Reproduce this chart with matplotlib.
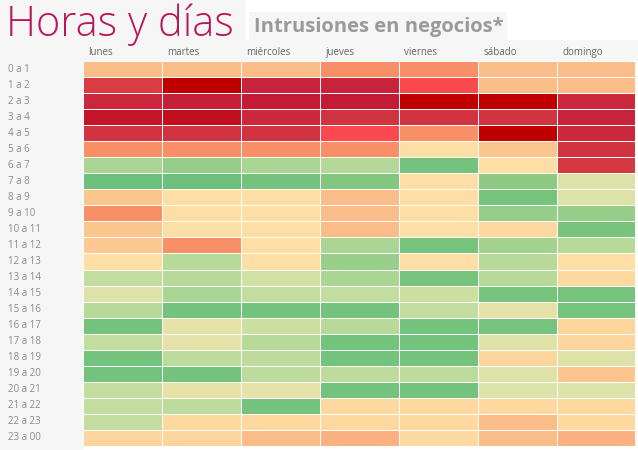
import numpy as np
import matplotlib.pyplot as plt
from matplotlib.colors import LinearSegmentedColormap
from matplotlib.patches import Rectangle

dias = ["lunes", "martes", "miércoles", "jueves", "viernes", "sábado", "domingo"]
horas = ["0 a 1", "1 a 2", "2 a 3", "3 a 4", "4 a 5", "5 a 6", "6 a 7", "7 a 8",
         "8 a 9", "9 a 10", "10 a 11", "11 a 12", "12 a 13", "13 a 14", "14 a 15",
         "15 a 16", "16 a 17", "17 a 18", "18 a 19", "19 a 20", "20 a 21",
         "21 a 22", "22 a 23", "23 a 00"]

# intensidad relativa (1 = menos intrusiones, 10 = más)
lunes = [6, 8.8, 9.2, 9.6, 9, 7, 3, 1.3, 5.8, 7, 5.8, 5.7, 5, 3.5, 4, 3.3,
         1.5, 3.5, 1.5, 1.5, 3.5, 3.5, 3.5, 5.3]
martes = [6, 10, 9.4, 9.7, 9, 7, 2.5, 1.3, 5, 5, 5, 7, 3.3, 3.3, 3, 1.5,
          4.3, 4.2, 3.4, 1.5, 4.3, 3.4, 5.2, 5.3]
miercoles = [6, 9.3, 9.5, 9.2, 9, 7, 3, 1.5, 5, 5, 5, 5, 5, 3.8, 3.5, 1.5,
             3.7, 3.3, 3.4, 3.4, 4.2, 1.5, 5.2, 6]
jueves = [7, 9.3, 9.5, 9, 8, 7, 3.2, 2, 6, 6, 6, 3, 2.6, 3, 3.5, 1.5,
          3.3, 1.5, 1.5, 3.4, 1.5, 5.2, 5.2, 6.3]
viernes = [7, 8, 10, 9, 7, 5, 1.5, 5, 5, 5, 5, 1.6, 5, 1.6, 3.7, 3.5,
           1.5, 1.5, 1.5, 3.4, 1.5, 5.2, 5.2, 5.2]
sabado = [6, 6, 10, 9, 10, 5.8, 5, 2.3, 1.6, 2.5, 5.2, 2.8, 3.3, 3.3, 1.6, 4.2,
          1.6, 4, 5.3, 4, 4, 5.2, 6, 6]
domingo = [6, 6, 9.2, 9.3, 9.2, 9, 8.9, 4, 4, 2.5, 1.7, 3.3, 5, 5.2, 1.6, 1.6,
           5.3, 5.3, 4, 5.8, 4, 5.2, 5.2, 6.3]

datos = np.array([lunes, martes, miercoles, jueves, viernes, sabado, domingo]).T

colores = [(0.0, "#63BE7B"), (0.12, "#86C77F"), (0.25, "#B5D99A"), (0.33, "#DCE2A8"),
           (0.44, "#FDE0A6"), (0.55, "#FBC08A"), (0.67, "#F98E66"), (0.78, "#FA4A50"),
           (0.87, "#D63C42"), (0.94, "#C41C3A"), (1.0, "#C00000")]
cmap = LinearSegmentedColormap.from_list("calor", colores)

fig = plt.figure(figsize=(6.38, 4.5), dpi=100)
fig.patch.set_facecolor("white")

# fondos suaves
fondos = [((0, 0.905), 0.385, 0.095), ((0.39, 0.912), 0.405, 0.062),
          ((0, 0.0), 0.13, 0.865), ((0, 0.865), 1.0, 0.045)]
for xy, w, h in fondos:
    fig.patches.append(Rectangle(xy, w, h, transform=fig.transFigure,
                                 facecolor="#F6F6F6", edgecolor="none", zorder=-1))

top, bottom = 1 - 61 / 450, 4 / 450
ax = fig.add_axes([0.130, bottom, 0.866, top - bottom])
ax.pcolormesh(datos, cmap=cmap, vmin=1, vmax=10, edgecolors="white", linewidth=0.5)
ax.set_xlim(0, len(dias))
ax.set_ylim(len(horas), 0)
ax.axis("off")

for j, d in enumerate(dias):
    ax.text(j + 0.07, -0.55, d, fontsize=7, color="#666666", va="center", ha="left",
            family="Open Sans")
for i, h in enumerate(horas):
    fig.text(0.012, top - (i + 0.5) * (top - bottom) / 24, h, fontsize=7,
             color="#8A8A8A", va="center", ha="left", family="Open Sans")

fig.text(0.010, 0.946, "Horas y días", fontsize=30, color="#B8185A", va="center",
         ha="left", family="Open Sans", fontweight="light")
fig.text(0.398, 0.940, "Intrusiones en negocios*", fontsize=14.5, color="#9A9A9A",
         va="center", ha="left", family="Open Sans", fontweight="bold")

fig.savefig("out.png", dpi=100)
